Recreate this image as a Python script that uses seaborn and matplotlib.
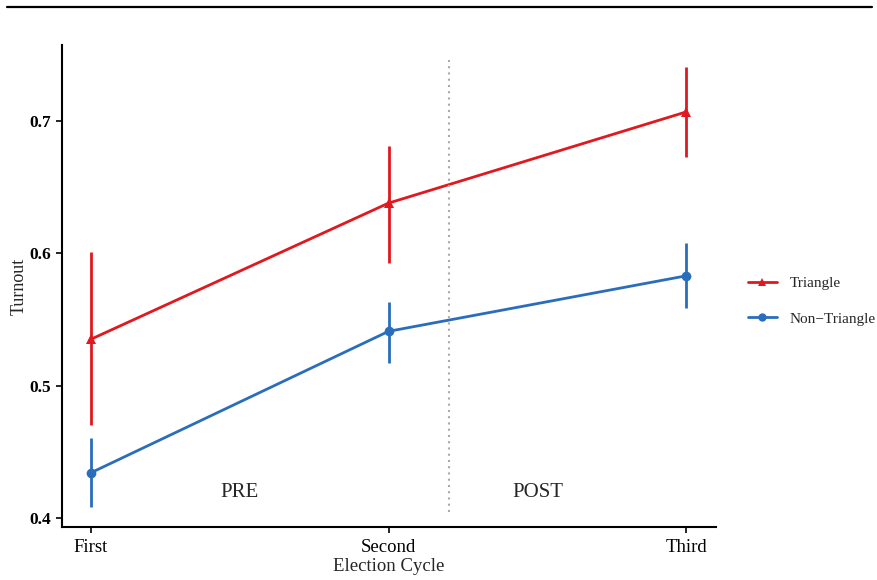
import matplotlib
matplotlib.use('Agg')
import matplotlib.pyplot as plt
import pandas as pd
import seaborn as sns
from matplotlib.lines import Line2D

cycles = ['First', 'Second', 'Third']
groups = ['Triangle', 'Non\u2212Triangle']

tri_mean = [0.535, 0.638, 0.707]
tri_low = [0.470, 0.593, 0.673]
tri_high = [0.601, 0.681, 0.741]

non_mean = [0.434, 0.541, 0.583]
non_low = [0.408, 0.517, 0.559]
non_high = [0.460, 0.563, 0.608]

colors = {'Triangle': '#E0181F', 'Non\u2212Triangle': '#2A6EBB'}
markers = {'Triangle': '^', 'Non\u2212Triangle': 'o'}

df = pd.DataFrame({
    'cycle': list(range(3)) * 2,
    'turnout': tri_mean + non_mean,
    'low': tri_low + non_low,
    'high': tri_high + non_high,
    'group': [groups[0]] * 3 + [groups[1]] * 3,
})

sns.set_style('white')
plt.rcParams['font.family'] = ['Liberation Serif', 'DejaVu Serif']

fig = plt.figure(figsize=(8.77, 5.8), dpi=100)
ax = fig.add_axes([0.0707, 0.0914, 0.7457, 0.831])

sns.lineplot(data=df, x='cycle', y='turnout', hue='group', style='group',
             palette=colors, markers=markers, dashes=False, linewidth=2,
             markersize=7, markeredgewidth=0, legend=False, ax=ax)

for g in groups:
    sub = df[df['group'] == g]
    ax.vlines(sub['cycle'], sub['low'], sub['high'], color=colors[g], linewidth=2)

# pre / post divider
ax.vlines(1.203, 0.404, 0.746, color='#aaaaaa', linewidth=1.5, linestyles=(0, (1, 2)))
ax.text(0.5, 0.419, 'PRE', ha='center', va='center', fontsize=15)
ax.text(1.5, 0.419, 'POST', ha='center', va='center', fontsize=15)

ax.set_xlim(-0.097, 2.10)
ax.set_ylim(0.393, 0.7576)
ax.set_xticks(range(3))
ax.set_xticklabels(cycles)
ax.set_yticks([0.4, 0.5, 0.6, 0.7])
ax.set_yticklabels(['0.4', '0.5', '0.6', '0.7'], fontweight='bold')
ax.tick_params(axis='both', direction='out', length=4, width=1.2,
               colors='black', left=True, bottom=True)
ax.tick_params(axis='x', labelsize=13.5, pad=5)
ax.tick_params(axis='y', labelsize=12.5, pad=4)
ax.set_xlabel('Election Cycle', fontsize=13.5, labelpad=1)
ax.set_ylabel('Turnout', fontsize=13, labelpad=1)
sns.despine(ax=ax)
for s in ['left', 'bottom']:
    ax.spines[s].set_color('black')
    ax.spines[s].set_linewidth(1.5)

handles = [Line2D([], [], color=colors[g], marker=markers[g], linewidth=2,
                  markersize=6, markeredgewidth=0) for g in groups]
fig.legend(handles, groups, loc='center left', bbox_to_anchor=(0.837, 0.481),
           frameon=False, fontsize=11, handlelength=1.9, handletextpad=0.85,
           labelspacing=1.45)

fig.add_artist(Line2D([0.008, 0.994], [0.988, 0.988], color='black', linewidth=1.6,
                      transform=fig.transFigure))

fig.savefig('out.png', dpi=100)
